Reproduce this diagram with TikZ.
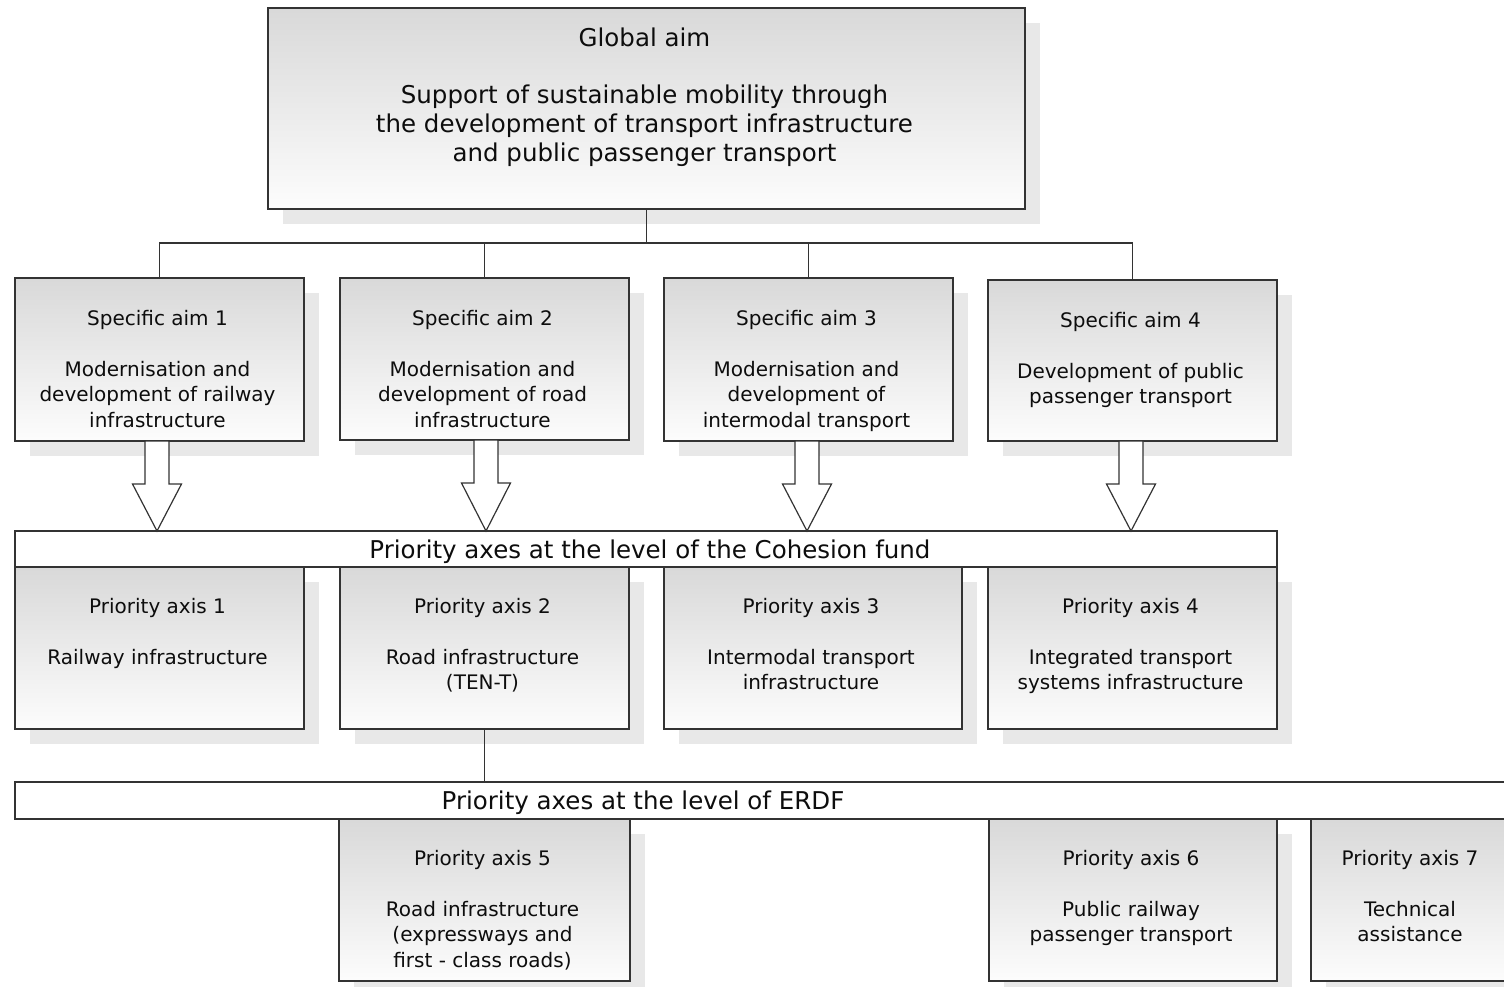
\documentclass[tikz,border=0pt]{standalone}
\usepackage{fontspec}
\setmainfont{DejaVu Sans}
\usetikzlibrary{shadows,calc}
\definecolor{ink}{HTML}{0D0D0D}
\definecolor{edge}{HTML}{333333}
\tikzset{
  box/.style={draw=edge, line width=1.2pt, top color=black!15, bottom color=black!1,
    inner sep=0pt, outer sep=0pt, anchor=north west,
    drop shadow={shadow xshift=15pt, shadow yshift=-15pt, fill=black!9, opacity=1}},
  band/.style={draw=edge, line width=1.2pt, fill=white, inner sep=0pt, outer sep=0pt, anchor=north west},
  txt/.style={align=center, inner sep=0pt, anchor=north, text=ink, font=\fontsize{20}{25.5}\selectfont},
  bigtxt/.style={align=center, inner sep=0pt, text=ink, font=\fontsize{24.5}{29}\selectfont},
  conn/.style={draw=edge, line width=1.2pt},
  harrow/.style={draw=edge, line width=1.2pt, fill=white, line join=miter}
}
% #1 source node, #2 target node, #3 horizontal offset of the arrow axis
\newcommand\hollowdown[3]{%
  \draw[harrow] ($(#1.south)+(#3-12,0)$) -- ++(0,43) -- ++(-12.5,0) -- ($(#1.south |- #2.north)+(#3,0)$)
    -- ($(#1.south)+(#3+24.5,43)$) -- ++(-12.5,0) -- ($(#1.south)+(#3+12,0)$) -- cycle;}
\begin{document}
\begin{tikzpicture}[x=1pt,y=-1pt]
\useasboundingbox (0,0) rectangle (1504,987);
\fill[white] (0,0) rectangle (1504,987);

% global aim
\node[box, minimum width=757, minimum height=201] (g) at (268,8) {};
\node[bigtxt, anchor=north] (gt) at ($(g.north)+(-2,20)$) {Global aim\\[28pt]Support of sustainable mobility through\\the development of transport infrastructure\\and public passenger transport};

% specific aims
\node[box, minimum width=289, minimum height=163] (s1) at (15,278) {};
\node[box, minimum width=289, minimum height=162] (s2) at (340,278) {};
\node[box, minimum width=289, minimum height=163] (s3) at (664,278) {};
\node[box, minimum width=289, minimum height=161] (s4) at (988,280) {};
\node[txt] (s1t) at ($(s1.north)+(-2,32)$) {Specific aim 1\\[25.5pt]Modernisation and\\development of railway\\infrastructure};
\node[txt] (s2t) at ($(s2.north)+(-2,32)$) {Specific aim 2\\[25.5pt]Modernisation and\\development of road\\infrastructure};
\node[txt] (s3t) at ($(s3.north)+(-2,32)$) {Specific aim 3\\[25.5pt]Modernisation and\\development of\\intermodal transport};
\node[txt] (s4t) at ($(s4.north)+(-2,32)$) {Specific aim 4\\[25.5pt]Development of public\\passenger transport};

% tree
\coordinate (tj) at ($(g.south)+(0,34)$);
\draw[conn] (g.south) -- (tj);
\draw[conn] (s1.north) |- (s4.north |- tj) -- (s4.north);
\draw[conn] (tj -| s2.north) -- (s2.north);
\draw[conn] (tj -| s3.north) -- (s3.north);

% cohesion band
\node[band, minimum width=1262, minimum height=36] (cb) at (15,531) {};
\node[bigtxt] (cbt) at ($(cb.center)+(4,3)$) {Priority axes at the level of the Cohesion fund};

\hollowdown{s1}{cb}{-2.5}
\hollowdown{s2}{cb}{1.5}
\hollowdown{s3}{cb}{-1.5}
\hollowdown{s4}{cb}{-1.5}

% priority axes 1-4
\node[box, minimum width=289, minimum height=162] (p1) at (15,567) {};
\node[box, minimum width=289, minimum height=162] (p2) at (340,567) {};
\node[box, minimum width=298, minimum height=162] (p3) at (664,567) {};
\node[box, minimum width=289, minimum height=162] (p4) at (988,567) {};
\node[txt] (p1t) at ($(p1.north)+(-2,31)$) {Priority axis 1\\[25.5pt]Railway infrastructure};
\node[txt] (p2t) at ($(p2.north)+(-2,31)$) {Priority axis 2\\[25.5pt]Road infrastructure\\(TEN-T)};
\node[txt] (p3t) at ($(p3.north)+(-2,31)$) {Priority axis 3\\[25.5pt]Intermodal transport\\infrastructure};
\node[txt] (p4t) at ($(p4.north)+(-2,31)$) {Priority axis 4\\[25.5pt]Integrated transport\\systems infrastructure};

% ERDF band
\node[band, minimum width=1520, minimum height=37] (eb) at (15,782) {};
\node[bigtxt] (ebt) at (643,803) {Priority axes at the level of ERDF};
\draw[conn] (p2.south) -- (p2.south |- eb.north);

% priority axes 5-7
\node[box, minimum width=291, minimum height=162] (p5) at (339,819) {};
\node[box, minimum width=288, minimum height=162] (p6) at (989,819) {};
\node[box, minimum width=198, minimum height=162] (p7) at (1311,819) {};
\node[txt] (p5t) at ($(p5.north)+(-2,31)$) {Priority axis 5\\[25.5pt]Road infrastructure\\(expressways and\\first - class roads)};
\node[txt] (p6t) at ($(p6.north)+(-2,31)$) {Priority axis 6\\[25.5pt]Public railway\\passenger transport};
\node[txt] (p7t) at ($(p7.north)+(0,31)$) {Priority axis 7\\[25.5pt]Technical\\assistance};
\end{tikzpicture}
\end{document}
